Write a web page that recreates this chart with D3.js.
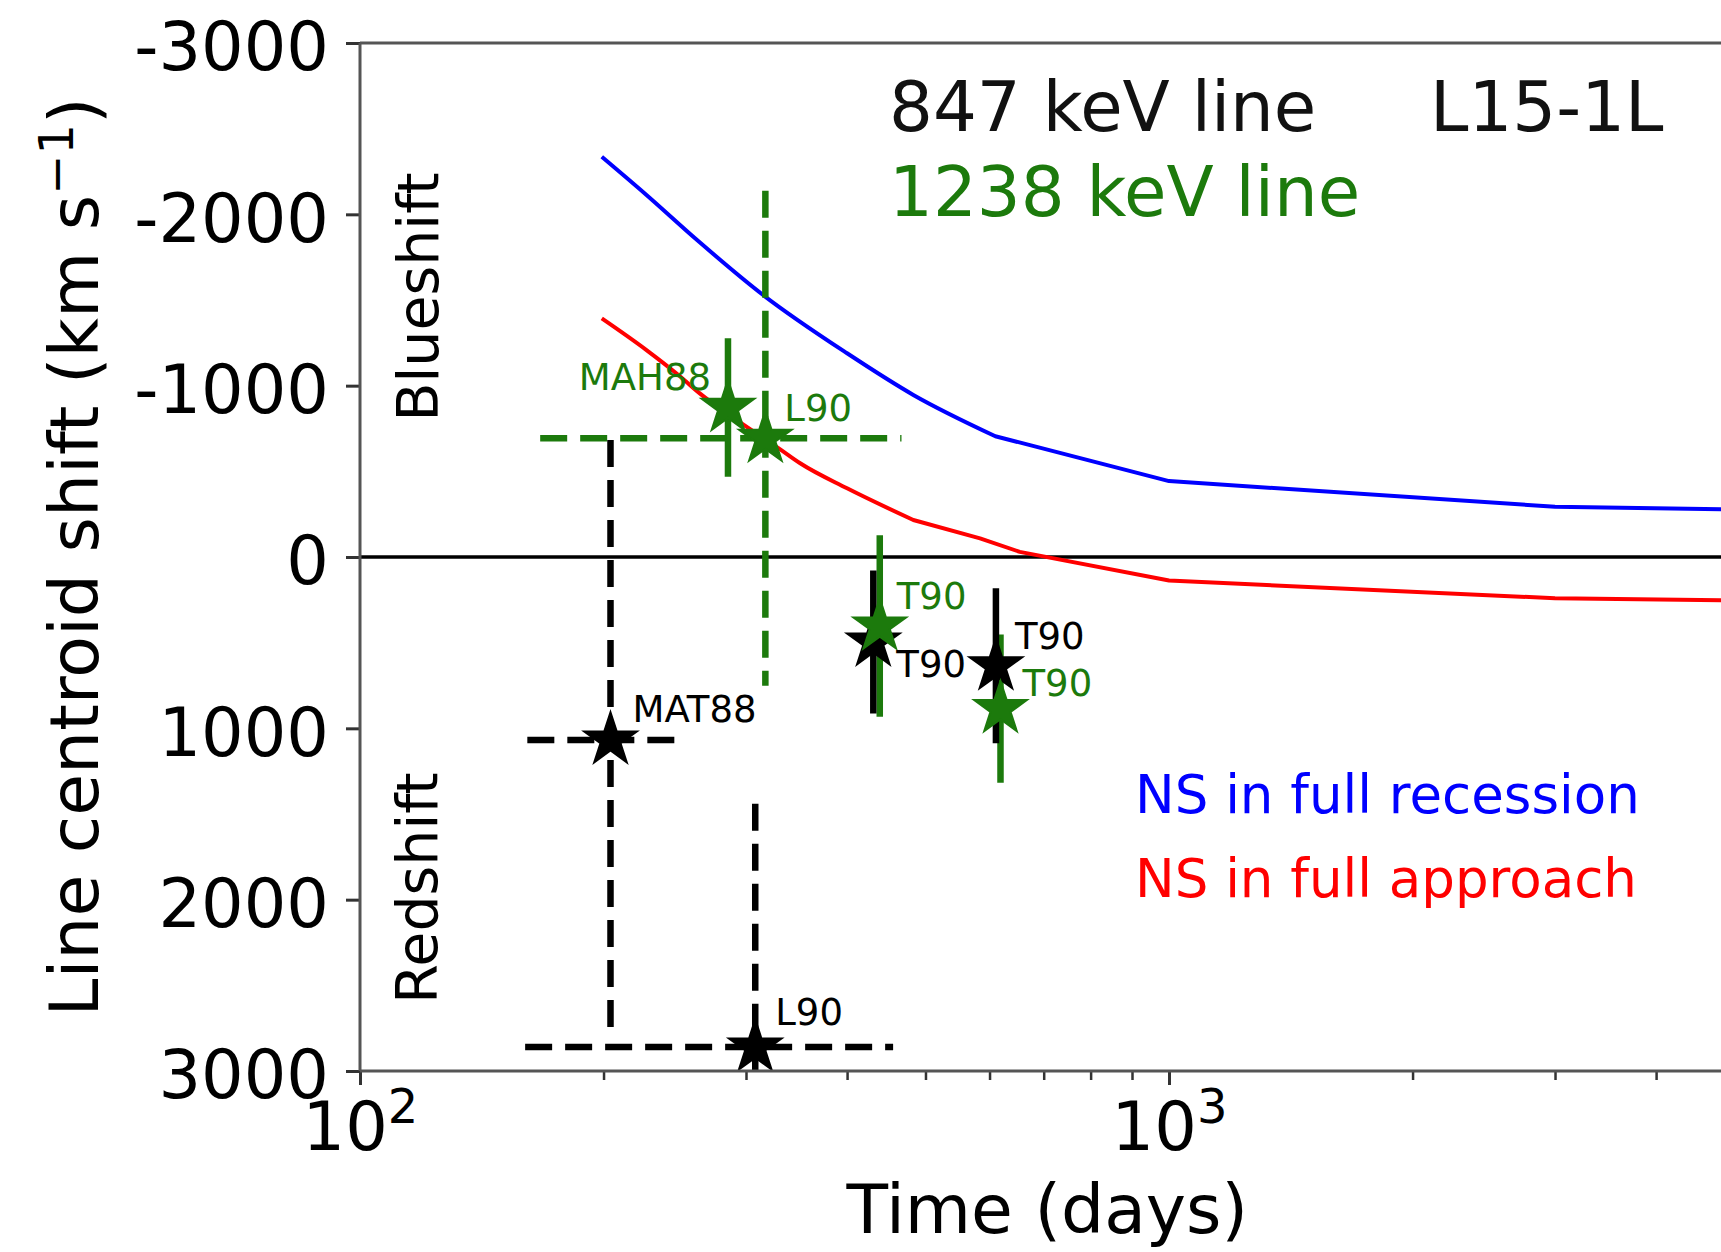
<!DOCTYPE html>
<html>
<head>
<meta charset="utf-8">
<script src="https://cdn.jsdelivr.net/npm/d3@7"></script>
<style>
  body { margin: 0; background: #fff; }
  svg text { font-family: "DejaVu Sans", sans-serif; }
</style>
</head>
<body>
<svg id="chart" width="1721" height="1252"></svg>
<script>
// model curves: centroid shift vs time (days)
var recessionTime = [199, 226, 261, 315, 400, 483, 610, 1000, 3000, 5000];
var recessionShift = [-2336, -2113, -1850, -1529, -1189, -946, -705, -443, -293, -278];
var approachTime = [199, 226, 249, 263, 292, 330, 350, 400, 483, 584, 654, 1000, 3000, 5000];
var approachShift = [-1393, -1208, -1052, -955, -800, -631, -547, -401, -216, -109, -30, 137, 241, 254];
// past these times the model curves run in straight pieces
var recessionKnee = 610;
var approachKnee = 483;

// 847 keV line measurements
var blackLabels = ['MAT88', 'L90', 'T90', 'T90'];
var blackTime = [204, 308, 431, 611];
var blackShift = [1068, 2860, 496, 635];
var blackTimeErr = [43, 148, 0, 0];
var blackShiftErr = [1751, 1420, 417, 452];

// 1238 keV line measurements
var greenLabels = ['MAH88', 'L90', 'T90', 'T90'];
var greenTime = [285, 317, 439, 619];
var greenShift = [-873, -693, 403, 885];
var greenTimeErr = [0, 150, 0, 0];
var greenShiftErr = [404, 1445, 530, 433];

var yTicks = [-3000, -2000, -1000, 0, 1000, 2000, 3000];
var xMajor = [100, 1000];
var xMinor = [200, 300, 400, 500, 600, 700, 800, 900, 2000, 3000, 4000];

// label nudges in px (dx, dy, anchor)
var blackNudge = [[22, -18, 'start'], [20, -22, 'start'], [23, 35, 'start'], [19, -17, 'start']];
var greenNudge = [[-17, -17, 'end'], [19, -17, 'start'], [17, -17, 'start'], [22, -13, 'start']];

var GREEN = '#1c7a0c';
var svg = d3.select('#chart');

var x = d3.scaleLog().domain([100, 5000]).range([360, 1734.5]);
var y = d3.scaleLinear().domain([-3000, 3000]).range([43, 1071]);

var x0 = x.range()[0], x1 = x.range()[1], y0 = y.range()[0], y1 = y.range()[1];

svg.append('clipPath').attr('id', 'plotArea').append('rect')
  .attr('x', x0).attr('y', y0).attr('width', x1 - x0).attr('height', y1 - y0);

var plot = svg.append('g').attr('clip-path', 'url(#plotArea)');

// zero line
plot.append('line')
  .attr('x1', x0).attr('x2', x1)
  .attr('y1', y(0)).attr('y2', y(0))
  .attr('stroke', '#000').attr('stroke-width', 3.5);

function drawCurve(times, shifts, knee, color) {
  var pts = d3.zip(times, shifts);
  var smooth = d3.line().curve(d3.curveMonotoneX)
    .x(function(d) { return x(d[0]); }).y(function(d) { return y(d[1]); });
  var straight = d3.line()
    .x(function(d) { return x(d[0]); }).y(function(d) { return y(d[1]); });
  var early = pts.filter(function(d) { return d[0] <= knee; });
  var late = pts.filter(function(d) { return d[0] >= knee; });
  plot.append('path').attr('d', smooth(early) + straight(late).replace(/^M/, 'L'))
    .attr('fill', 'none').attr('stroke', color).attr('stroke-width', 4)
    .attr('stroke-linejoin', 'round');
}

drawCurve(recessionTime, recessionShift, recessionKnee, '#0000ff');
drawCurve(approachTime, approachShift, approachKnee, '#ff0000');

function drawSeries(labels, times, shifts, tErr, vErr, color, nudge) {
  var pts = labels.map(function(l, i) {
    return { label: l, t: times[i], v: shifts[i], dt: tErr[i], dv: vErr[i], nudge: nudge[i] };
  });

  pts.forEach(function(p) {
    var dashed = p.dt > 0; // tentative detections are dashed
    plot.append('line')
      .attr('x1', x(p.t)).attr('x2', x(p.t))
      .attr('y1', y(p.v - p.dv)).attr('y2', y(p.v + p.dv))
      .attr('stroke', color).attr('stroke-width', 6.5)
      .attr('stroke-dasharray', dashed ? '27,13' : null);
    if (p.dt > 0) {
      plot.append('line')
        .attr('x1', x(p.t - p.dt)).attr('x2', x(p.t + p.dt))
        .attr('y1', y(p.v)).attr('y2', y(p.v))
        .attr('stroke', color).attr('stroke-width', 6.5)
        .attr('stroke-dasharray', '27,13');
    }
  });
  return pts;
}

function drawStars(pts, color) {
  var star = d3.symbol().type(d3.symbolStar).size(860);
  pts.forEach(function(p) {
    plot.append('path')
      .attr('d', star())
      .attr('transform', 'translate(' + x(p.t) + ',' + y(p.v) + ')')
      .attr('fill', color).attr('stroke', color).attr('stroke-width', 2);
  });
  pts.forEach(function(p) {
    svg.append('text')
      .attr('x', x(p.t) + p.nudge[0])
      .attr('y', y(p.v) + p.nudge[1])
      .attr('text-anchor', p.nudge[2])
      .attr('font-size', 37)
      .attr('fill', color)
      .text(p.label);
  });
}

var greenPts = drawSeries(greenLabels, greenTime, greenShift, greenTimeErr, greenShiftErr, GREEN, greenNudge);
var blackPts = drawSeries(blackLabels, blackTime, blackShift, blackTimeErr, blackShiftErr, '#000', blackNudge);
drawStars(blackPts, '#000');
drawStars(greenPts, GREEN);

// axes
var yAxis = svg.append('g').attr('transform', 'translate(' + x0 + ',0)')
  .call(d3.axisLeft(y).tickValues(yTicks).tickSize(14).tickSizeOuter(0).tickPadding(17)
    .tickFormat(function(d) { return String(d); }));
yAxis.select('.domain').remove();
yAxis.selectAll('.tick line').attr('stroke', '#333').attr('stroke-width', 3);
yAxis.selectAll('.tick text').attr('font-size', 67).attr('dy', '0.40em').attr('fill', '#000')
  .attr('font-family', '"DejaVu Sans", sans-serif');

var xAxisMinor = svg.append('g').attr('transform', 'translate(0,' + y1 + ')')
  .call(d3.axisBottom(x).tickValues(xMinor).tickSize(9).tickSizeOuter(0).tickFormat(''));
xAxisMinor.select('.domain').remove();
xAxisMinor.selectAll('.tick line').attr('stroke', '#333').attr('stroke-width', 2.5);

var xAxis = svg.append('g').attr('transform', 'translate(0,' + y1 + ')')
  .call(d3.axisBottom(x).tickValues(xMajor).tickSize(14).tickSizeOuter(0).tickFormat(''));
xAxis.select('.domain').remove();
xAxis.selectAll('.tick line').attr('stroke', '#333').attr('stroke-width', 3);
xAxis.selectAll('.tick text').remove();
xAxis.selectAll('.tick').append('text')
  .attr('y', 79).attr('text-anchor', 'middle').attr('fill', '#000').attr('font-size', 67)
  .attr('font-family', '"DejaVu Sans", sans-serif')
  .each(function(d) {
    var t = d3.select(this);
    t.append('tspan').text('10');
    t.append('tspan').attr('dy', -27).attr('font-size', 48).text(Math.round(Math.log10(d)));
  });

// spines
var spine = svg.append('g').attr('stroke', '#555').attr('stroke-width', 3).attr('fill', 'none');
spine.append('line').attr('x1', x0).attr('x2', x0).attr('y1', y0).attr('y2', y1);
spine.append('line').attr('x1', x0).attr('x2', x1).attr('y1', y0).attr('y2', y0);
spine.append('line').attr('x1', x0).attr('x2', x1).attr('y1', y1).attr('y2', y1);

// axis titles
svg.append('text')
  .attr('x', (x0 + x1) / 2).attr('y', 1233)
  .attr('text-anchor', 'middle').attr('font-size', 68)
  .text('Time (days)');

var yTitle = svg.append('text')
  .attr('transform', 'translate(98,' + (y0 + y1) / 2 + ') rotate(-90)')
  .attr('text-anchor', 'middle').attr('font-size', 68);
yTitle.append('tspan').text('Line centroid shift (km s');
yTitle.append('tspan').attr('dy', -25).attr('font-size', 48).text('\u22121');
yTitle.append('tspan').attr('dy', 25).text(')');

// region labels
svg.append('text').attr('transform', 'translate(438,297) rotate(-90)')
  .attr('text-anchor', 'middle').attr('font-size', 57).text('Blueshift');
svg.append('text').attr('transform', 'translate(437,888) rotate(-90)')
  .attr('text-anchor', 'middle').attr('font-size', 57).text('Redshift');

// annotations
svg.append('text').attr('x', 889).attr('y', 131).attr('font-size', 69).attr('fill', '#111').text('847 keV line');
svg.append('text').attr('x', 1430).attr('y', 131).attr('font-size', 69).attr('fill', '#111').text('L15-1L');
svg.append('text').attr('x', 889).attr('y', 216).attr('font-size', 69).attr('fill', GREEN).text('1238 keV line');
svg.append('text').attr('x', 1135).attr('y', 813).attr('font-size', 53).attr('fill', '#0000ff').text('NS in full recession');
svg.append('text').attr('x', 1135).attr('y', 897).attr('font-size', 53).attr('fill', '#ff0000').text('NS in full approach');
</script>
</body>
</html>
